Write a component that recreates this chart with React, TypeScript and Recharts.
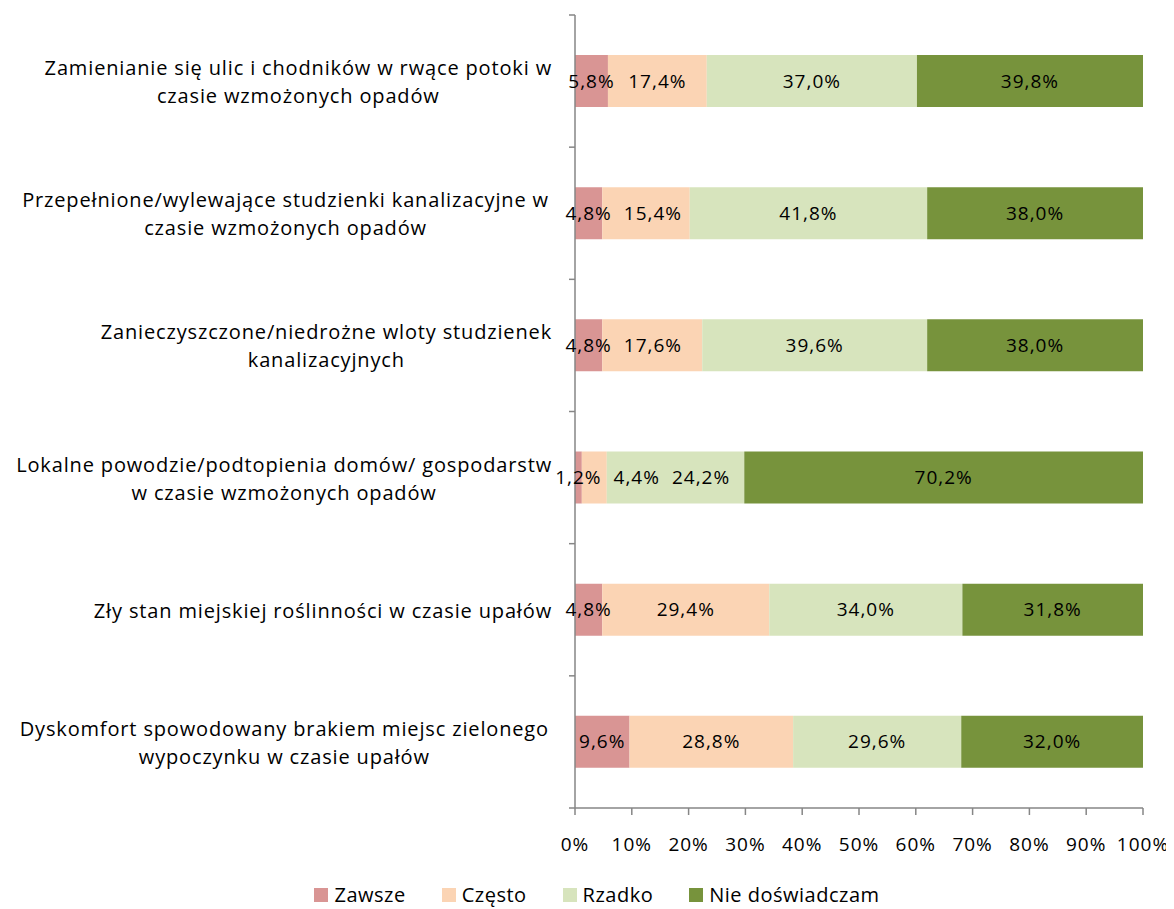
import React from 'react';
import { BarChart, Bar, XAxis, YAxis, Legend, LabelList } from 'recharts';

const categories = [
  'Zamienianie się ulic i chodników w rwące potoki w\nczasie wzmożonych opadów',
  'Przepełnione/wylewające studzienki kanalizacyjne  w\nczasie wzmożonych opadów',
  'Zanieczyszczone/niedrożne wloty studzienek\nkanalizacyjnych',
  'Lokalne powodzie/podtopienia domów/ gospodarstw\nw czasie wzmożonych opadów',
  'Zły stan miejskiej roślinności w czasie upałów',
  'Dyskomfort spowodowany  brakiem miejsc zielonego\nwypoczynku w czasie upałów',
];
const zawsze = [5.8, 4.8, 4.8, 1.2, 4.8, 9.6];
const czesto = [17.4, 15.4, 17.6, 4.4, 29.4, 28.8];
const rzadko = [37.0, 41.8, 39.6, 24.2, 34.0, 29.6];
const nie = [39.8, 38.0, 38.0, 70.2, 31.8, 32.0];
const xTicks = [0, 10, 20, 30, 40, 50, 60, 70, 80, 90, 100];

const seriesNames = ['Zawsze', 'Często', 'Rzadko', 'Nie doświadczam'];
const seriesKeys = ['zawsze', 'czesto', 'rzadko', 'nie'];
const seriesValues = [zawsze, czesto, rzadko, nie];
const colors = ['#D99594', '#FBD4B4', '#D7E4BD', '#77933C'];

const data = categories.map((name, i) => ({
  name,
  zawsze: zawsze[i],
  czesto: czesto[i],
  rzadko: rzadko[i],
  nie: nie[i],
}));

const FONT = '"Open Sans", sans-serif';
const FS = 19;
const NUM_LS = 1;
const CAT_FS = 20;
const CAT_LS = 0.85;
const AXIS = '#868686';

const W = 1174;
const H = 909;
const M = { top: 15, right: 31, left: 0, bottom: 0 };
const YW = 575;
const XH = 101;
const plotH = H - M.top - M.bottom - XH;
const band = plotH / categories.length;

let ctx: CanvasRenderingContext2D | null = null;
function measure(t: string, fs: number, ls = 0) {
  if (!ctx) ctx = document.createElement('canvas').getContext('2d');
  if (!ctx) return t.length * fs * 0.52 + ls * t.length;
  ctx.font = `${fs}px ${FONT}`;
  return ctx.measureText(t).width + ls * t.length;
}

const fmt = (v: any) => Number(v).toFixed(1).replace('.', ',') + '%';

// Label renderer: centers labels in their segment, pushing them right when they would overlap
const makeLabel = (si: number) => (props: any) => {
  const { x, y, width, height, index, value } = props;
  const pxPerUnit = width / value;
  const row = seriesValues.map((s) => s[index]);
  let start = x;
  for (let k = 0; k < si; k++) start -= row[k] * pxPerUnit;
  let cum = 0;
  let prevRight = -Infinity;
  let myCenter = x + width / 2;
  for (let k = 0; k < row.length; k++) {
    const segCenter = start + (cum + row[k] / 2) * pxPerUnit;
    const w = measure(fmt(row[k]), FS, NUM_LS);
    let c = segCenter;
    if (c - w / 2 < prevRight + 12) c = prevRight + 12 + w / 2;
    prevRight = c + w / 2;
    if (k === si) myCenter = c;
    cum += row[k];
  }
  return (
    <text
      x={myCenter}
      y={y + height / 2}
      dy="0.35em"
      textAnchor="middle"
      fontFamily={FONT}
      fontSize={FS}
      letterSpacing={NUM_LS}
      fill="#000"
    >
      {fmt(value)}
    </text>
  );
};

const YTick = (props: any) => {
  const { x, y, payload, index } = props;
  const lines = String(payload.value).split('\n');
  const maxW = Math.max(...lines.map((l) => measure(l, CAT_FS, CAT_LS)));
  const right = x - 23;
  const cx = right - maxW / 2;
  const lh = 28;
  const y0 = y - ((lines.length - 1) * lh) / 2 + 1;
  return (
    <g>
      <line x1={x - 6} x2={x} y1={y - band / 2} y2={y - band / 2} stroke={AXIS} strokeWidth={1.5} />
      {index === categories.length - 1 && (
        <line x1={x - 6} x2={x} y1={y + band / 2} y2={y + band / 2} stroke={AXIS} strokeWidth={1.5} />
      )}
      <text textAnchor="middle" fontFamily={FONT} fontSize={CAT_FS} letterSpacing={CAT_LS} fill="#000">
        {lines.map((l, i) => (
          <tspan key={i} x={cx} y={y0 + i * lh} dy="0.35em">
            {l}
          </tspan>
        ))}
      </text>
    </g>
  );
};

const LegendContent = () => (
  <div style={{ display: 'flex', justifyContent: 'center', fontFamily: FONT, fontSize: 20, color: '#000', paddingLeft: 20 }}>
    {seriesNames.map((n, i) => (
      <div key={n} style={{ display: 'flex', alignItems: 'center', marginRight: i < 3 ? 36 : 0 }}>
        <span style={{ display: 'inline-block', width: 14, height: 14, background: colors[i], marginRight: 6 }} />
        <span style={{ letterSpacing: 0.5 }}>{n}</span>
      </div>
    ))}
  </div>
);

export default function App() {
  return (
    <div style={{ marginTop: -8, marginLeft: -8, width: W, height: H, background: '#fff' }}>
      <BarChart width={W} height={H} data={data} layout="vertical" margin={M} barSize={52}>
        <XAxis
          type="number"
          domain={[0, 100]}
          ticks={xTicks}
          tickFormatter={(v: number) => `${v}%`}
          interval={0}
          height={XH}
          stroke={AXIS}
          strokeWidth={1.5}
          tickSize={7}
          tickMargin={23}
          tick={{ fill: '#000', fontFamily: FONT, fontSize: FS, letterSpacing: NUM_LS }}
        />
        <YAxis
          type="category"
          dataKey="name"
          width={YW}
          stroke={AXIS}
          strokeWidth={1.5}
          tickLine={false}
          tickSize={0}
          tickMargin={0}
          tick={<YTick />}
          interval={0}
        />
        {seriesKeys.map((k, i) => (
          <Bar key={k} dataKey={k} name={seriesNames[i]} stackId="a" fill={colors[i]} isAnimationActive={false}>
            <LabelList dataKey={k} content={makeLabel(i)} />
          </Bar>
        ))}
        <Legend
          verticalAlign="middle"
          align="center"
          layout="horizontal"
          content={<LegendContent />}
          wrapperStyle={{ top: 881, left: 0, width: W, height: 28 }}
        />
      </BarChart>
    </div>
  );
}
